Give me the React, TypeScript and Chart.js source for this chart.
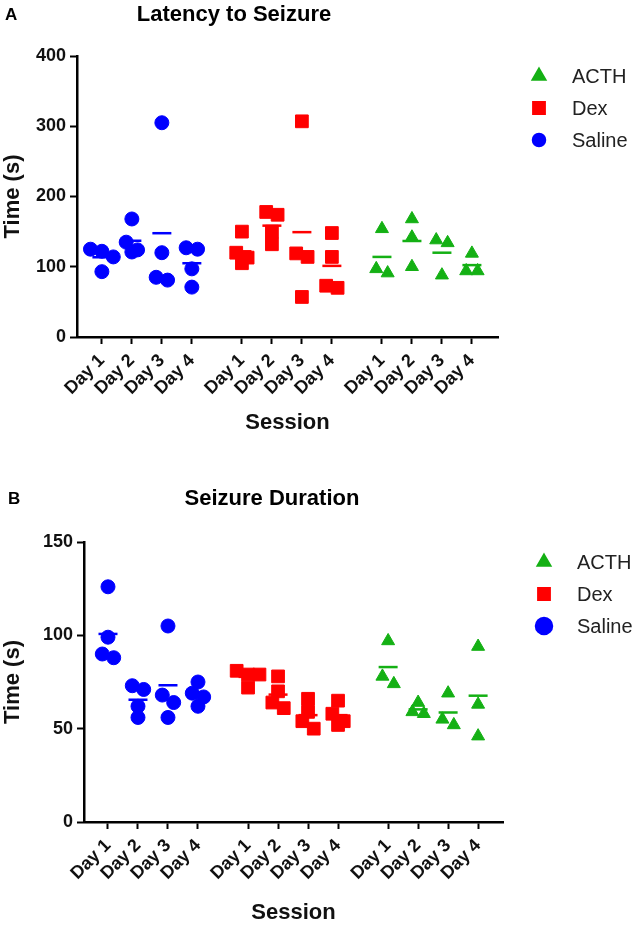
import React, { useEffect, useRef } from 'react';
import { Chart, registerables } from 'chart.js';
import { drawPoint } from 'chart.js/helpers';

Chart.register(...registerables);

// ---------- data ----------
const days = ['Day 1', 'Day 2', 'Day 3', 'Day 4'];
const groupNames = ['Saline', 'Dex', 'ACTH'];
const legendOrder = ['ACTH', 'Dex', 'Saline'];

const latencyTicks = [0, 100, 200, 300, 400];
const durationTicks = [0, 50, 100, 150];

// Latency to Seizure (s), one inner list per day
const salineLatency = [[125, 122, 114, 93], [168, 135, 124, 121], [305, 120, 81, 85], [125, 127, 97, 71]];
const dexLatency = [[150, 120, 113, 105], [178, 174, 150, 132], [307, 119, 114, 57], [148, 114, 70, 73]];
const acthLatency = [[154, 91, 97], [168, 142, 100], [138, 134, 88], [119, 94, 94]];

// Seizure Duration (s), one inner list per day
const salineDuration = [[126, 99, 88, 90], [73, 71, 62, 56], [105, 68, 64, 56], [75, 69, 67, 62]];
const dexDuration = [[79, 81, 72, 79], [78, 70, 64, 61], [66, 59, 54, 50], [65, 58, 54, 52]];
const acthDuration = [[97, 78, 74], [64, 59, 58], [69, 55, 52], [94, 63, 46]];

// ---------- styling / layout ----------
const FONT = '"Liberation Sans", Arial, Helvetica, sans-serif';
const groupColors: Record<string, string> = { Saline: '#0000ff', Dex: '#ff0000', ACTH: '#14b014' };
const groupStyles: Record<string, any> = { Saline: 'circle', Dex: 'rect', ACTH: 'triangle' };
const groupRadius: Record<string, number> = { Saline: 7, Dex: 9, ACTH: 7.5 };
const GROUP_STEP = 4.67; // x distance between treatment blocks (category units)
const SWARM_STEP = 0.38;

function mean(a: number[]) {
  return a.reduce((s, v) => s + v, 0) / a.length;
}

// scatter-dot-plot layout: points with close values share a centred row
function swarm(values: number[], gap: number, step: number) {
  const idx = values.map((_, i) => i).sort((a, b) => values[b] - values[a]);
  const offs = new Array(values.length).fill(0);
  let row: number[] = [];
  const flush = () => {
    row.forEach((id, k) => { offs[id] = (k - (row.length - 1) / 2) * step; });
    row = [];
  };
  idx.forEach((id) => {
    if (row.length && values[row[0]] - values[id] >= gap) flush();
    row.push(id);
  });
  flush();
  return offs;
}

type Panel = {
  letter: string;
  title: string;
  series: Record<string, number[][]>;
  yTicks: number[];
  gap: number;
  canvasH: number;
  yAxisW: number;
  xAxisH: number;
  padTop: number;
  padRight: number;
  xMin: number;
  xMax: number;
  xTitlePad: number;
  titleX: number;
  titleY: number;
  letterX: number;
  circleLegendR: number;
};

const panels: Panel[] = [
  {
    letter: 'A', title: 'Latency to Seizure',
    series: { Saline: salineLatency, Dex: dexLatency, ACTH: acthLatency },
    yTicks: latencyTicks, gap: 12,
    canvasH: 463, yAxisW: 77, xAxisH: 126, padTop: 56, padRight: 143,
    xMin: -0.83, xMax: 13.21, xTitlePad: 27,
    titleX: 234, titleY: 15, letterX: 5, circleLegendR: 6,
  },
  {
    letter: 'B', title: 'Seizure Duration',
    series: { Saline: salineDuration, Dex: dexDuration, ACTH: acthDuration },
    yTicks: durationTicks, gap: 4.5,
    canvasH: 463, yAxisW: 84, xAxisH: 104, padTop: 79, padRight: 138,
    xMin: -0.8, xMax: 13.17, xTitlePad: 0,
    titleX: 272, titleY: 36, letterX: 8, circleLegendR: 8,
  },
];

const tickPositions: number[] = [];
const tickLabels: string[] = [];
groupNames.forEach((_, g) => days.forEach((d, i) => {
  tickPositions.push(g * GROUP_STEP + i);
  tickLabels.push(d);
}));

const annotate = {
  id: 'annotate',
  afterDraw(chart: any, _args: any, opts: any) {
    const { ctx, chartArea } = chart;
    ctx.save();
    ctx.fillStyle = '#000';
    ctx.textBaseline = 'middle';
    ctx.textAlign = 'left';
    ctx.font = `bold 17px ${FONT}`;
    ctx.fillText(opts.letter, opts.letterX, opts.titleY);
    ctx.textAlign = 'center';
    ctx.font = `bold 22px ${FONT}`;
    ctx.fillText(opts.title, opts.titleX, opts.titleY);
    // legend
    legendOrder.forEach((name, k) => {
      const y = chartArea.top + 20 + k * 32;
      const x = chartArea.right + 41;
      ctx.fillStyle = groupColors[name];
      ctx.strokeStyle = groupColors[name];
      const r = name === 'Saline' ? opts.circleLegendR : name === 'Dex' ? 8 : 7;
      drawPoint(ctx, { pointStyle: groupStyles[name], radius: r, rotation: 0, borderWidth: 1 }, x, y);
      ctx.fillStyle = '#222';
      ctx.textAlign = 'left';
      ctx.font = `20px ${FONT}`;
      ctx.fillText(name, chartArea.right + 74, y + 1);
    });
    ctx.restore();
  },
};

function buildConfig(p: Panel): any {
  const datasets: any[] = [];
  groupNames.forEach((name, g) => {
    const vals = p.series[name];
    const pts: { x: number; y: number }[] = [];
    const means: { x: number; y: number }[] = [];
    vals.forEach((dayVals, i) => {
      const base = g * GROUP_STEP + i;
      const offs = swarm(dayVals, p.gap, SWARM_STEP);
      dayVals.forEach((v, j) => pts.push({ x: base + offs[j], y: v }));
      means.push({ x: base, y: mean(dayVals) });
    });
    datasets.push({
      label: name, data: pts, showLine: false, order: 1,
      pointStyle: groupStyles[name], pointRadius: groupRadius[name],
      pointBackgroundColor: groupColors[name], pointBorderColor: groupColors[name], pointBorderWidth: 1,
    });
    datasets.push({
      label: name + ' mean', data: means, showLine: false, order: 0,
      pointStyle: 'line', pointRadius: 9.5,
      pointBackgroundColor: groupColors[name], pointBorderColor: groupColors[name], pointBorderWidth: 2.5,
    });
  });

  const tickFont = { family: FONT, size: 18, weight: 'bold' as const };
  const titleFont = { family: FONT, size: 22, weight: 'bold' as const };
  const yMax = p.yTicks[p.yTicks.length - 1];

  return {
    type: 'scatter',
    data: { datasets },
    plugins: [annotate],
    options: {
      animation: false,
      responsive: false,
      devicePixelRatio: 1,
      clip: false,
      layout: { padding: { top: p.padTop, right: p.padRight, left: 0, bottom: 0 } },
      plugins: {
        legend: { display: false },
        tooltip: { enabled: false },
        annotate: { letter: p.letter, title: p.title, titleX: p.titleX, titleY: p.titleY, letterX: p.letterX, circleLegendR: p.circleLegendR },
      },
      scales: {
        x: {
          type: 'linear',
          min: p.xMin, max: p.xMax,
          afterBuildTicks: (s: any) => { s.ticks = tickPositions.map((v) => ({ value: v })); },
          afterFit: (s: any) => { s.height = p.xAxisH; },
          ticks: {
            autoSkip: false, minRotation: 45, maxRotation: 45, padding: 6,
            color: '#111', font: tickFont,
            callback: (_v: any, i: number) => tickLabels[i],
          },
          grid: { drawOnChartArea: false, drawTicks: true, tickLength: 7, tickColor: '#000', tickWidth: 2 },
          border: { display: true, color: '#000', width: 2.5 },
          title: { display: true, text: 'Session', color: '#111', font: titleFont, padding: { top: 0, bottom: p.xTitlePad } },
        },
        y: {
          type: 'linear',
          min: 0, max: yMax,
          afterBuildTicks: (s: any) => { s.ticks = p.yTicks.map((v) => ({ value: v })); },
          afterFit: (s: any) => { s.width = p.yAxisW; },
          ticks: { padding: 4, color: '#111', font: tickFont },
          grid: { drawOnChartArea: false, drawTicks: true, tickLength: 7, tickColor: '#000', tickWidth: 2 },
          border: { display: true, color: '#000', width: 2.5 },
          title: { display: true, text: 'Time (s)', color: '#111', font: titleFont, padding: { top: 0, bottom: 0 } },
        },
      },
    },
  };
}

function PanelChart({ panel }: { panel: Panel }) {
  const ref = useRef<HTMLCanvasElement | null>(null);
  useEffect(() => {
    if (!ref.current) return;
    const chart = new Chart(ref.current, buildConfig(panel));
    return () => chart.destroy();
  }, [panel]);
  return (
    <div style={{ width: 641, height: panel.canvasH }}>
      <canvas ref={ref} width={641} height={panel.canvasH} style={{ display: 'block', width: 641, height: panel.canvasH }} />
    </div>
  );
}

export default function App() {
  useEffect(() => {
    document.body.style.margin = '0';
    document.body.style.background = '#fff';
  }, []);
  return (
    <div style={{ width: 641, height: 926, overflow: 'hidden', background: '#fff' }}>
      {panels.map((p) => (
        <PanelChart key={p.letter} panel={p} />
      ))}
    </div>
  );
}
